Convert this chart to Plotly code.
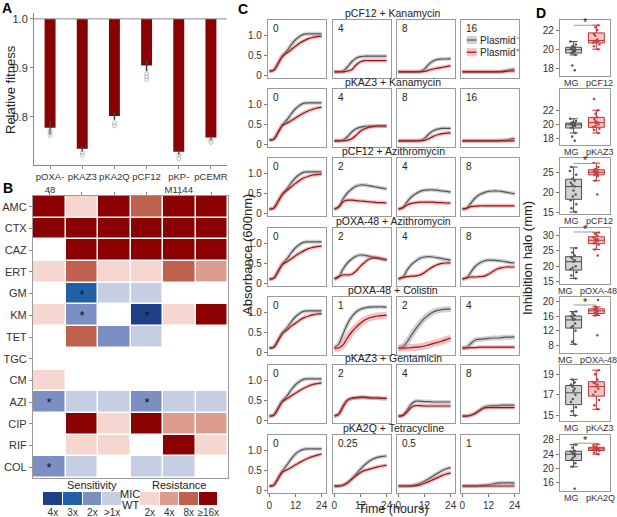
import plotly.graph_objects as go

W, H = 617, 517
FONT = "Liberation Sans, Arial, sans-serif"

# ---------------- A: relative fitness ----------------
plasmids = ["pOXA-48", "pKAZ3", "pKA2Q", "pCF12", "pKP-M1144", "pCEMR"]
plasmid_ticks = ["pOXA-<br>48", "pKAZ3", "pKA2Q", "pCF12", "pKP-<br>M1144", "pCEMR"]
fitness = [0.778, 0.735, 0.802, 0.905, 0.729, 0.758]
fitness_err = [0.014, 0.006, 0.008, 0.012, 0.006, 0.005]
fitness_reps = [
    [0.762, 0.767, 0.771],
    [0.722, 0.727],
    [0.782, 0.788],
    [0.876, 0.882, 0.888],
    [0.715, 0.722],
    [0.748, 0.753],
]

# ---------------- B: MIC heatmap ----------------
antibiotics = ["AMC", "CTX", "CAZ", "ERT", "GM", "KM", "TET", "TGC", "CM", "AZI", "CIP", "RIF", "COL"]
# -4..-1 = sensitivity 4x,3x,2x,>1x ; 0 = WT ; 1..4 = resistance 2x,4x,8x,>=16x
mic_level = [
    [4, 1, 4, 3, 4, 4],
    [4, 4, 4, 4, 4, 4],
    [0, 4, 4, 4, 4, 4],
    [1, 3, 1, 1, 3, 2],
    [0, -3, -1, -1, 0, 0],
    [1, -2, 0, -4, 1, 4],
    [0, 3, -2, -1, 0, 0],
    [0, 0, 0, 0, 0, 0],
    [1, 0, 0, 0, 0, 0],
    [-2, -1, -1, -2, -1, -1],
    [0, 4, 1, 4, 2, 2],
    [0, 1, 1, 0, 4, 1],
    [-2, -1, 0, -1, -1, 0],
]
mic_star = [
    ["", "", "", "", "", ""],
    ["", "", "", "", "", ""],
    ["", "", "", "", "", ""],
    ["", "", "", "", "", ""],
    ["", "*", "", "", "", ""],
    ["", "*", "", "*", "", ""],
    ["", "", "", "", "", ""],
    ["", "", "", "", "", ""],
    ["", "", "", "", "", ""],
    ["*", "", "", "*", "", ""],
    ["", "", "", "", "", ""],
    ["", "", "", "", "", ""],
    ["*", "", "", "", "", ""],
]
sens_labels = ["4x", "3x", "2x", ">1x"]
sens_levels = [-4, -3, -2, -1]
res_labels = ["2x", "4x", "8x", "≥16x"]
res_levels = [1, 2, 3, 4]
level_colors = ["#1f3f87", "#2361a6", "#7b8fc2", "#c6cee3", "#ffffff",
                "#f5d7d0", "#dc9d8f", "#c0614f", "#8b0000"]

# ---------------- C: growth curves ----------------
hours = [0, 2, 4, 6, 8, 10, 12, 14, 16, 18, 20, 22, 24]
c_titles = ["pCF12 + Kanamycin", "pKAZ3 + Kanamycin", "pCF12 + Azithromycin",
            "pOXA-48 + Azithromycin", "pOXA-48 + Colistin", "pKAZ3 + Gentamicin",
            "pKA2Q + Tetracycline"]
c_conc = [["0", "4", "8", "16"], ["0", "4", "8", "16"], ["0", "2", "4", "8"],
          ["0", "2", "4", "8"], ["0", "1", "2", "4"], ["0", "2", "4", "8"],
          ["0", "0.25", "0.5", "1"]]
od_minus = [
    [[0.1, 0.12, 0.3, 0.48, 0.6, 0.75, 0.88, 0.97, 1.02, 1.03, 1.03, 1.03, 1.03],
     [0.08, 0.08, 0.1, 0.2, 0.33, 0.42, 0.46, 0.47, 0.47, 0.47, 0.47, 0.47, 0.47],
     [0.08, 0.08, 0.08, 0.08, 0.08, 0.09, 0.15, 0.27, 0.35, 0.39, 0.4, 0.4, 0.41],
     [0.08, 0.08, 0.08, 0.08, 0.08, 0.08, 0.08, 0.08, 0.08, 0.09, 0.11, 0.13, 0.15]],
    [[0.1, 0.12, 0.3, 0.48, 0.6, 0.75, 0.88, 0.97, 1.02, 1.03, 1.03, 1.03, 1.03],
     [0.08, 0.08, 0.1, 0.18, 0.3, 0.38, 0.42, 0.44, 0.45, 0.45, 0.45, 0.45, 0.45],
     [0.08, 0.08, 0.08, 0.08, 0.08, 0.09, 0.14, 0.25, 0.33, 0.37, 0.39, 0.39, 0.39],
     [0.08, 0.08, 0.08, 0.08, 0.08, 0.08, 0.08, 0.08, 0.08, 0.09, 0.1, 0.12, 0.14]],
    [[0.1, 0.12, 0.3, 0.48, 0.6, 0.75, 0.88, 0.97, 1.02, 1.03, 1.03, 1.03, 1.03],
     [0.1, 0.15, 0.35, 0.5, 0.6, 0.67, 0.7, 0.7, 0.68, 0.66, 0.64, 0.62, 0.6],
     [0.1, 0.13, 0.28, 0.4, 0.48, 0.54, 0.57, 0.58, 0.58, 0.57, 0.55, 0.54, 0.52],
     [0.1, 0.12, 0.25, 0.38, 0.46, 0.51, 0.54, 0.55, 0.55, 0.54, 0.52, 0.5, 0.48]],
    [[0.1, 0.12, 0.3, 0.48, 0.6, 0.75, 0.88, 0.97, 1.02, 1.03, 1.03, 1.03, 1.03],
     [0.1, 0.15, 0.35, 0.5, 0.6, 0.67, 0.7, 0.69, 0.67, 0.65, 0.63, 0.6, 0.58],
     [0.1, 0.14, 0.32, 0.46, 0.55, 0.62, 0.65, 0.66, 0.65, 0.63, 0.61, 0.59, 0.57],
     [0.1, 0.13, 0.28, 0.42, 0.5, 0.55, 0.57, 0.57, 0.56, 0.55, 0.53, 0.51, 0.5]],
    [[0.1, 0.12, 0.3, 0.48, 0.6, 0.75, 0.88, 0.97, 1.02, 1.03, 1.03, 1.03, 1.03],
     [0.1, 0.2, 0.45, 0.7, 0.88, 1.0, 1.07, 1.1, 1.12, 1.13, 1.13, 1.13, 1.12],
     [0.1, 0.12, 0.25, 0.42, 0.58, 0.72, 0.84, 0.93, 1.0, 1.04, 1.06, 1.07, 1.07],
     [0.1, 0.12, 0.22, 0.3, 0.32, 0.33, 0.34, 0.35, 0.35, 0.36, 0.37, 0.37, 0.38]],
    [[0.1, 0.12, 0.3, 0.48, 0.6, 0.75, 0.88, 0.97, 1.02, 1.03, 1.03, 1.03, 1.03],
     [0.1, 0.15, 0.35, 0.5, 0.54, 0.55, 0.56, 0.56, 0.55, 0.55, 0.55, 0.54, 0.54],
     [0.1, 0.12, 0.25, 0.4, 0.47, 0.47, 0.46, 0.46, 0.45, 0.45, 0.45, 0.45, 0.45],
     [0.1, 0.1, 0.12, 0.17, 0.25, 0.32, 0.35, 0.36, 0.36, 0.37, 0.37, 0.37, 0.37]],
    [[0.1, 0.12, 0.3, 0.47, 0.62, 0.77, 0.9, 0.98, 1.02, 1.03, 1.03, 1.03, 1.03],
     [0.1, 0.1, 0.12, 0.18, 0.28, 0.4, 0.52, 0.63, 0.72, 0.78, 0.82, 0.84, 0.85],
     [0.1, 0.1, 0.1, 0.11, 0.13, 0.17, 0.22, 0.28, 0.35, 0.42, 0.48, 0.53, 0.56],
     [0.1, 0.1, 0.1, 0.1, 0.11, 0.12, 0.13, 0.15, 0.17, 0.18, 0.18, 0.18, 0.17]],
]
od_plus = [
    [[0.1, 0.12, 0.28, 0.46, 0.55, 0.63, 0.72, 0.8, 0.86, 0.91, 0.94, 0.96, 0.97],
     [0.08, 0.08, 0.08, 0.1, 0.13, 0.25, 0.33, 0.36, 0.36, 0.36, 0.36, 0.36, 0.36],
     [0.08, 0.08, 0.08, 0.08, 0.08, 0.08, 0.09, 0.12, 0.15, 0.17, 0.19, 0.21, 0.23],
     [0.08, 0.08, 0.08, 0.08, 0.08, 0.08, 0.08, 0.08, 0.08, 0.08, 0.09, 0.1, 0.1]],
    [[0.1, 0.12, 0.28, 0.46, 0.52, 0.58, 0.65, 0.72, 0.78, 0.83, 0.87, 0.9, 0.92],
     [0.08, 0.08, 0.08, 0.09, 0.13, 0.22, 0.32, 0.38, 0.42, 0.44, 0.45, 0.45, 0.45],
     [0.08, 0.08, 0.08, 0.08, 0.08, 0.08, 0.09, 0.13, 0.19, 0.23, 0.26, 0.27, 0.28],
     [0.08, 0.08, 0.08, 0.08, 0.08, 0.08, 0.08, 0.08, 0.08, 0.08, 0.08, 0.08, 0.08]],
    [[0.1, 0.12, 0.28, 0.46, 0.56, 0.65, 0.74, 0.82, 0.88, 0.92, 0.95, 0.96, 0.97],
     [0.1, 0.15, 0.28, 0.32, 0.32, 0.31, 0.3, 0.29, 0.28, 0.27, 0.26, 0.26, 0.25],
     [0.1, 0.13, 0.2, 0.24, 0.26, 0.27, 0.27, 0.27, 0.27, 0.26, 0.26, 0.25, 0.25],
     [0.1, 0.12, 0.16, 0.17, 0.18, 0.18, 0.18, 0.18, 0.18, 0.18, 0.18, 0.18, 0.18]],
    [[0.1, 0.12, 0.28, 0.46, 0.53, 0.6, 0.68, 0.75, 0.81, 0.86, 0.89, 0.91, 0.92],
     [0.1, 0.16, 0.2, 0.2, 0.22, 0.3, 0.42, 0.52, 0.6, 0.63, 0.62, 0.6, 0.58],
     [0.1, 0.14, 0.16, 0.17, 0.18, 0.2, 0.26, 0.34, 0.41, 0.46, 0.49, 0.5, 0.5],
     [0.1, 0.13, 0.15, 0.15, 0.16, 0.17, 0.22, 0.29, 0.35, 0.38, 0.4, 0.4, 0.4]],
    [[0.1, 0.12, 0.28, 0.46, 0.55, 0.64, 0.72, 0.8, 0.86, 0.9, 0.93, 0.95, 0.96],
     [0.1, 0.1, 0.18, 0.35, 0.5, 0.62, 0.72, 0.8, 0.85, 0.88, 0.9, 0.91, 0.92],
     [0.1, 0.1, 0.1, 0.11, 0.12, 0.13, 0.15, 0.18, 0.21, 0.24, 0.27, 0.31, 0.35],
     [0.1, 0.1, 0.11, 0.11, 0.12, 0.12, 0.12, 0.12, 0.12, 0.12, 0.12, 0.12, 0.12]],
    [[0.1, 0.12, 0.28, 0.46, 0.53, 0.6, 0.67, 0.74, 0.8, 0.85, 0.89, 0.91, 0.93],
     [0.1, 0.14, 0.33, 0.49, 0.54, 0.56, 0.57, 0.57, 0.56, 0.55, 0.55, 0.54, 0.54],
     [0.1, 0.11, 0.2, 0.32, 0.36, 0.36, 0.35, 0.35, 0.35, 0.35, 0.35, 0.35, 0.35],
     [0.1, 0.1, 0.12, 0.17, 0.24, 0.3, 0.31, 0.31, 0.31, 0.31, 0.31, 0.31, 0.31]],
    [[0.1, 0.12, 0.28, 0.45, 0.5, 0.56, 0.63, 0.69, 0.75, 0.8, 0.84, 0.87, 0.9],
     [0.1, 0.1, 0.12, 0.18, 0.27, 0.36, 0.44, 0.49, 0.52, 0.55, 0.58, 0.6, 0.62],
     [0.1, 0.1, 0.1, 0.1, 0.11, 0.13, 0.17, 0.21, 0.26, 0.31, 0.36, 0.4, 0.43],
     [0.1, 0.1, 0.1, 0.1, 0.1, 0.1, 0.1, 0.1, 0.1, 0.1, 0.1, 0.1, 0.1]],
]

# ---------------- D: inhibition halos ----------------
d_plasmid = ["pCF12", "pKAZ3", "pCF12", "pOXA-48", "pOXA-48", "pKAZ3", "pKA2Q"]
halo_mg = [
    [17.8, 18.3, 19.4, 19.6, 19.7, 19.8, 19.9, 20.0, 20.0, 20.1, 20.2, 20.3, 20.5, 20.8],
    [17.7, 18.3, 18.8, 19.5, 19.7, 19.8, 19.9, 20.0, 20.0, 20.1, 20.2, 20.3, 20.5, 20.8],
    [15.0, 16.0, 17.0, 18.0, 19.0, 19.5, 20.5, 21.5, 22.0, 22.5, 23.0, 23.5, 24.5, 25.5, 26.5],
    [16.0, 17.0, 18.0, 19.0, 19.5, 20.0, 21.5, 22.0, 22.5, 23.0, 23.5, 24.5, 26.0],
    [8.3, 9.0, 12.0, 13.0, 13.3, 14.0, 15.0, 15.2, 15.5, 16.0, 16.3, 16.8, 17.3],
    [15.0, 15.4, 15.8, 16.3, 16.6, 17.0, 17.4, 17.6, 17.8, 18.0, 18.2, 18.5],
    [14.3, 20.5, 21.5, 22.5, 23.0, 23.5, 24.0, 24.2, 24.5, 24.8, 25.0, 25.8, 26.7],
]
halo_plasmid = [
    [20.0, 20.3, 20.5, 20.7, 20.8, 20.8, 20.9, 21.0, 21.4, 21.6, 22.0, 22.3, 22.5],
    [18.8, 19.2, 19.4, 19.6, 19.8, 20.0, 20.2, 20.3, 20.5, 20.8, 21.0, 21.5, 22.0, 23.6],
    [19.5, 23.0, 24.2, 24.5, 24.8, 25.0, 25.1, 25.2, 25.3, 25.5, 25.8, 26.0, 26.5, 27.5],
    [23.5, 25.5, 27.0, 27.5, 28.0, 28.3, 28.5, 28.8, 29.0, 29.5, 30.0, 30.5, 31.0],
    [10.8, 16.2, 16.6, 16.8, 17.0, 17.3, 17.5, 17.6, 17.8, 18.0, 18.2, 18.6, 20.5],
    [15.6, 16.0, 16.5, 17.0, 17.3, 17.6, 17.8, 18.0, 18.1, 18.2, 18.5, 19.0, 19.4],
    [24.0, 24.5, 25.0, 25.2, 25.4, 25.5, 25.6, 25.8, 26.0, 26.3, 26.8],
]
halo_sig = [22.5, None, 27.4, 31.2, 19.1, None, 27.1]
d_range = [[17.2, 23.05], [17.1, 25.0], [14.5, 28.8], [14.2, 32.5], [5.9, 21.3], [14.46, 19.9], [13.7, 29.4]]
d_ticks = [[18, 20, 22], [18, 20, 22], [15, 20, 25], [15, 20, 25, 30], [8, 12, 16, 20], [15, 17, 19], [16, 20, 24, 28]]

# ---------------- helpers ----------------
TICK = dict(family=FONT, size=10, color="#333333")
FRAME = "#9a9a9a"
GREY, GREY_BAND = "#4d5656", "rgba(150,150,150,0.45)"
RED, RED_BAND = "#9b1010", "rgba(225,120,120,0.45)"


def xdom(a, b):
    return [a / W, b / W]


def ydom(top, bottom):
    return [1 - bottom / H, 1 - top / H]


def ref(n):
    return ("x", "y") if n == 1 else (f"x{n}", f"y{n}")


fig = go.Figure()
axes = {}
annotations = []
shapes = []


def set_axes(n, xd, yd, xopts, yopts):
    kx = "xaxis" if n == 1 else f"xaxis{n}"
    ky = "yaxis" if n == 1 else f"yaxis{n}"
    xr, yr = ref(n)
    ax = dict(domain=xd, anchor=yr, showgrid=False, zeroline=False, tickfont=TICK,
              automargin=False, tickangle=0)
    ax.update(xopts)
    ay = dict(domain=yd, anchor=xr, showgrid=False, zeroline=False, tickfont=TICK,
              automargin=False)
    ay.update(yopts)
    axes[kx] = ax
    axes[ky] = ay


def text(x, y, s, size=10, **kw):
    d = dict(x=x / W, y=1 - y / H, xref="paper", yref="paper", text=s, showarrow=False,
             xanchor="center", yanchor="middle",
             font=dict(family=FONT, size=size, color=kw.pop("color", "#222222")))
    d.update(kw)
    annotations.append(d)


# ---------------- A ----------------
fig.add_trace(go.Bar(x=plasmids, y=[f - 1 for f in fitness], base=1.0, width=0.34,
                     marker=dict(color="#8b0000", line=dict(width=0)), xaxis="x", yaxis="y"))
fig.add_trace(go.Scatter(x=plasmids, y=fitness, mode="markers", marker=dict(size=1, color="#333"),
                         error_y=dict(type="data", array=fitness_err, color="#444", thickness=1.5, width=0),
                         xaxis="x", yaxis="y"))
rx, ry = [], []
for p, reps in zip(plasmids, fitness_reps):
    rx += [p] * len(reps)
    ry += reps
fig.add_trace(go.Scatter(x=rx, y=ry, mode="markers",
                         marker=dict(size=4, symbol="circle-open", color="#b0b0b0", line=dict(width=0.8)),
                         xaxis="x", yaxis="y"))
set_axes(1, xdom(34, 227), ydom(13, 165),
         dict(tickvals=plasmids, ticktext=plasmid_ticks, ticks="outside", ticklen=3, tickcolor="#888",
              showline=True, linecolor="#888", linewidth=1, range=[-0.5, 5.5],
              tickfont=dict(family=FONT, size=9.5, color="#333")),
         dict(range=[0.702, 1.012], tickvals=[0.8, 0.9, 1.0], ticktext=["0.8", "0.9", "1.0"],
              ticks="outside", ticklen=3, tickcolor="#888", showline=True, linecolor="#888",
              tickfont=dict(family=FONT, size=11, color="#333")))
shapes.append(dict(type="line", xref="x domain", yref="y", x0=0, x1=1, y0=1.0, y1=1.0,
                   line=dict(color="#888", width=1)))
text(10, 90, "Relative fitness", size=13, textangle=-90)

# ---------------- B ----------------
ncol = len(level_colors)
cscale = []
for i, c in enumerate(level_colors):
    cscale += [[i / ncol, c], [(i + 1) / ncol, c]]
fig.add_trace(go.Heatmap(z=mic_level, x=plasmids, y=antibiotics, text=mic_star, texttemplate="%{text}",
                         textfont=dict(size=13, color="#111"), colorscale=cscale, zmin=-4.5, zmax=4.5,
                         showscale=False, xgap=1.5, ygap=1.5, xaxis="x2", yaxis="y2"))
set_axes(2, xdom(33, 228), ydom(196, 478),
         dict(side="top", ticks="outside", ticklen=3, tickcolor="#888", showticklabels=False,
              showline=True, mirror=True, linecolor=FRAME, linewidth=1.2),
         dict(autorange="reversed", ticks="outside", ticklen=3, tickcolor="#888",
              showline=True, mirror=True, linecolor=FRAME, linewidth=1.2,
              tickfont=dict(family=FONT, size=11, color="#333")))

fig.add_trace(go.Heatmap(z=[sens_levels], x=sens_labels, colorscale=cscale, zmin=-4.5, zmax=4.5,
                         showscale=False, xgap=1, xaxis="x3", yaxis="y3"))
set_axes(3, xdom(43, 122), ydom(492, 505), dict(ticks=""), dict(visible=False))
fig.add_trace(go.Heatmap(z=[res_levels], x=res_labels, colorscale=cscale, zmin=-4.5, zmax=4.5,
                         showscale=False, xgap=1, xaxis="x4", yaxis="y4"))
set_axes(4, xdom(140, 218), ydom(492, 505), dict(ticks=""), dict(visible=False))
text(92, 485, "Sensitivity", size=11)
text(179, 485, "Resistance", size=11)
text(130, 494, "MIC", size=11)
text(130, 505, "WT", size=11)

# ---------------- C ----------------
c_top = [20, 89, 158, 228, 297, 365, 435]
c_left = [268, 333, 397, 461]
band_px = {(4, 1, 1): 7, (4, 2, 0): 6, (4, 2, 1): 7, (4, 3, 0): 5}
n = 5
for r in range(7):
    for c in range(4):
        xr, yr = ref(n)
        for s, (vals, lc, bc) in enumerate(((od_minus[r][c], GREY, GREY_BAND), (od_plus[r][c], RED, RED_BAND))):
            fig.add_trace(go.Scatter(x=hours, y=vals, mode="lines", hoverinfo="skip",
                                     line=dict(color=bc, width=band_px.get((r, c, s), 4), shape="spline"),
                                     xaxis=xr, yaxis=yr))
            fig.add_trace(go.Scatter(x=hours, y=vals, mode="lines",
                                     line=dict(color=lc, width=1.2, shape="spline"),
                                     xaxis=xr, yaxis=yr))
        bottom = r == 6
        left = c == 0
        set_axes(n, xdom(c_left[c], c_left[c] + 58), ydom(c_top[r], c_top[r] + 58),
                 dict(range=[-0.6, 26], tickvals=[0, 12, 24], showticklabels=bottom,
                      ticks="outside" if bottom else "", ticklen=3, tickcolor="#777",
                      showline=True, mirror=True, linecolor=FRAME, linewidth=1.3),
                 dict(range=[-0.075, 1.375], tickvals=[0, 0.5, 1.0], ticktext=["0", "0.5", "1.0"],
                      showticklabels=left, ticks="outside" if left else "", ticklen=3, tickcolor="#777",
                      showline=True, mirror=True, linecolor=FRAME, linewidth=1.3))
        annotations.append(dict(x=0.05, y=0.98, xref=f"{xr} domain", yref=f"{yr} domain",
                                text=c_conc[r][c], showarrow=False, xanchor="left", yanchor="top",
                                font=dict(family=FONT, size=10, color="#222")))
        if r == 0 and c == 3:
            for k, (lab, lc, bc) in enumerate((("Plasmid⁻", GREY, GREY_BAND), ("Plasmid⁺", RED, RED_BAND))):
                yc = 0.655 - k * 0.21
                shapes.append(dict(type="rect", xref=f"{xr} domain", yref=f"{yr} domain",
                                   x0=0.1, x1=0.27, y0=yc - 0.07, y1=yc + 0.07,
                                   fillcolor=bc, line=dict(width=0)))
                shapes.append(dict(type="line", xref=f"{xr} domain", yref=f"{yr} domain",
                                   x0=0.1, x1=0.27, y0=yc, y1=yc, line=dict(color=lc, width=1.2)))
                annotations.append(dict(x=0.29, y=yc, xref=f"{xr} domain", yref=f"{yr} domain",
                                        text=lab, showarrow=False, xanchor="left", yanchor="middle",
                                        font=dict(family=FONT, size=10, color="#222")))
        n += 1
    text(393, c_top[r] - 7, c_titles[r], size=10.5)
text(247, 255, "Absorbance (600nm)", size=13, textangle=-90)
text(393, 509, "Time (hours)", size=12.5)

# ---------------- D ----------------
for i in range(7):
    xr, yr = ref(n)
    cats = ["MG", d_plasmid[i]]
    fig.add_trace(go.Box(x=[cats[0]] * len(halo_mg[i]), y=halo_mg[i], boxpoints="all", jitter=0.5,
                         pointpos=0, width=0.7, fillcolor="#d3d3d3", line=dict(color="#4a4a4a", width=1),
                         marker=dict(size=2.5, color="#555"), xaxis=xr, yaxis=yr))
    fig.add_trace(go.Box(x=[cats[1]] * len(halo_plasmid[i]), y=halo_plasmid[i], boxpoints="all",
                         jitter=0.5, pointpos=0, width=0.7, fillcolor="rgba(235,160,160,0.6)",
                         line=dict(color="#b83232", width=1),
                         marker=dict(size=2.5, color="#c04040"), xaxis=xr, yaxis=yr))
    set_axes(n, xdom(560, 610), ydom(c_top[i], c_top[i] + 56),
             dict(categoryorder="array", categoryarray=cats, range=[-0.6, 1.6], ticks="",
                  showticklabels=False,
                  showline=True, mirror=True, linecolor=FRAME, linewidth=1.3),
             dict(range=d_range[i], tickvals=d_ticks[i], ticks="outside", ticklen=3, tickcolor="#777",
                  showline=True, mirror=True, linecolor=FRAME, linewidth=1.3))
    # category labels under each box pair
    split = 577 if len(cats[1]) > 5 else 583
    text(split - 2, c_top[i] + 63, cats[0], size=9, xanchor="right", color="#333")
    text(split + 1, c_top[i] + 63, cats[1], size=9, xanchor="left", color="#333")
    if halo_sig[i] is not None:
        shapes.append(dict(type="line", xref=xr, yref=yr, x0=0, x1=1, y0=halo_sig[i], y1=halo_sig[i],
                           line=dict(color="#999", width=1)))
        annotations.append(dict(x=0.5, y=halo_sig[i], xref=xr, yref=yr, text="*", showarrow=False,
                                yanchor="bottom", yshift=-5, font=dict(family=FONT, size=11, color="#222")))
    n += 1
text(527, 258, "Inhibition halo (mm)", size=13, textangle=-90)

# panel letters
for lab, x, y in (("A", 7, 8), ("B", 8, 188), ("C", 243, 9), ("D", 541, 13)):
    text(x, y, "<b>%s</b>" % lab, size=14, color="#000")

fig.update_layout(
    width=W, height=H, margin=dict(l=0, r=0, t=0, b=0, autoexpand=False),
    paper_bgcolor="white", plot_bgcolor="white", showlegend=False,
    boxmode="overlay", font=dict(family=FONT, color="#222"),
    annotations=annotations, shapes=shapes, **axes,
)
fig.write_html("out.html", config={"displayModeBar": False},
               post_script="document.body.style.margin='0';document.body.style.overflow='hidden';")
